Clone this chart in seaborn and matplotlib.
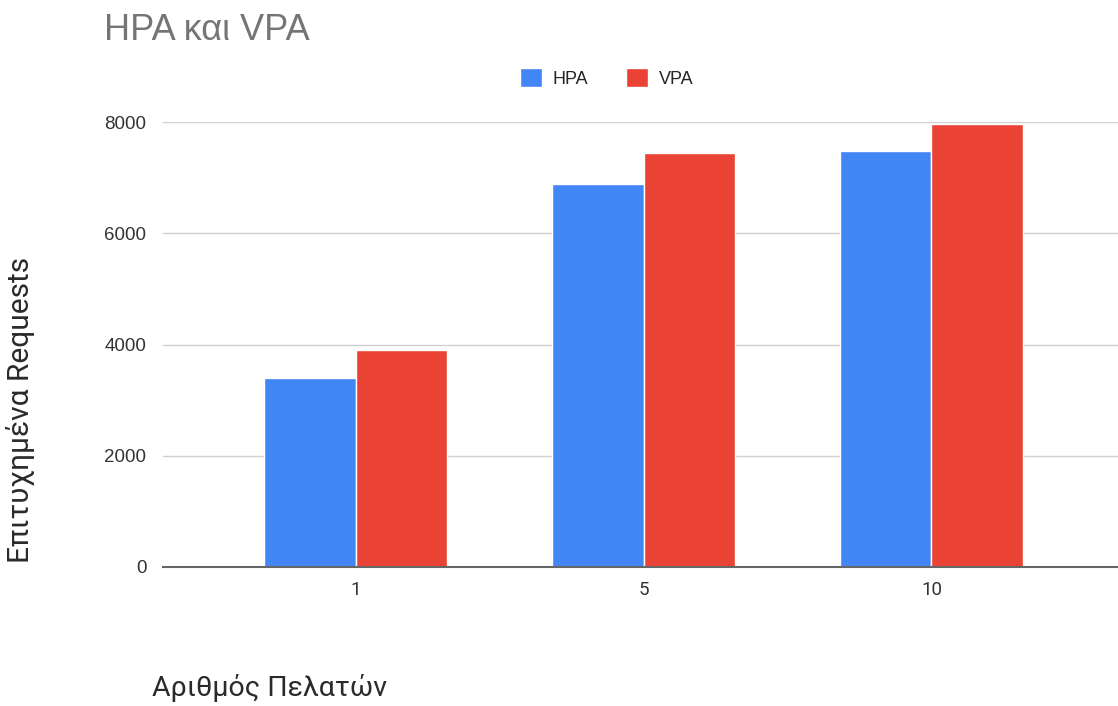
import pandas as pd
import matplotlib.pyplot as plt
import seaborn as sns

# values
clients = ['1', '5', '10']
hpa_requests = [3400, 6880, 7480]
vpa_requests = [3900, 7440, 7960]
series_names = ['HPA', 'VPA']
y_ticks = [0, 2000, 4000, 6000, 8000]

colors = {'HPA': '#4285F4', 'VPA': '#EA4335'}

df = pd.DataFrame({
    'clients': clients * 2,
    'requests': hpa_requests + vpa_requests,
    'series': [series_names[0]] * len(clients) + [series_names[1]] * len(clients),
})

sns.set_style('white')
plt.rcParams['font.family'] = ['Liberation Sans', 'DejaVu Sans']

fig = plt.figure(figsize=(11.18, 7.06), dpi=100)
ax = fig.add_axes([0.1458, 0.197, 0.856, 0.630])

sns.barplot(data=df, x='clients', y='requests', hue='series', order=clients,
            hue_order=series_names, palette=colors, width=0.635, saturation=1,
            edgecolor='white', linewidth=1, ax=ax, legend=True)

ax.set_ylim(0, 8000)
ax.set_xlim(-0.67, 2.655)
ax.set_yticks(y_ticks)
ax.yaxis.grid(True, color='#d0d0d0', linewidth=1)
ax.set_axisbelow(True)
for s in ['top', 'right', 'left']:
    ax.spines[s].set_visible(False)
ax.spines['bottom'].set_color('#666666')
ax.spines['bottom'].set_linewidth(1.5)
ax.tick_params(axis='both', length=0, labelsize=13.5, colors='#333333')
ax.tick_params(axis='y', pad=12)
ax.tick_params(axis='x', pad=10)
for lab in ax.get_xticklabels():
    lab.set_fontfamily('Roboto')

ax.set_ylabel('Επιτυχημένα Requests', fontsize=21.5, family='Roboto',
              fontweight='normal', color='#2a2a2a')
ax.yaxis.set_label_coords(-0.134, 0.353)
ax.set_xlabel('Αριθμός Πελατών', fontsize=20.5, family='Roboto',
              fontweight='normal', color='#2a2a2a', ha='left', va='center')
ax.xaxis.set_label_coords(-0.011, -0.272)

ax.legend(loc='center', bbox_to_anchor=(607 / 1118, 1 - 78 / 706),
          bbox_transform=fig.transFigure, ncol=2, frameon=False,
          handlelength=1.2, handleheight=1.2, columnspacing=2.1,
          handletextpad=0.6, fontsize=13)

fig.text(104 / 1118, 1 - 30 / 706, 'HPA και VPA', fontsize=26,
         color='#757575', ha='left', va='center')

plt.savefig('out.png', dpi=100)
